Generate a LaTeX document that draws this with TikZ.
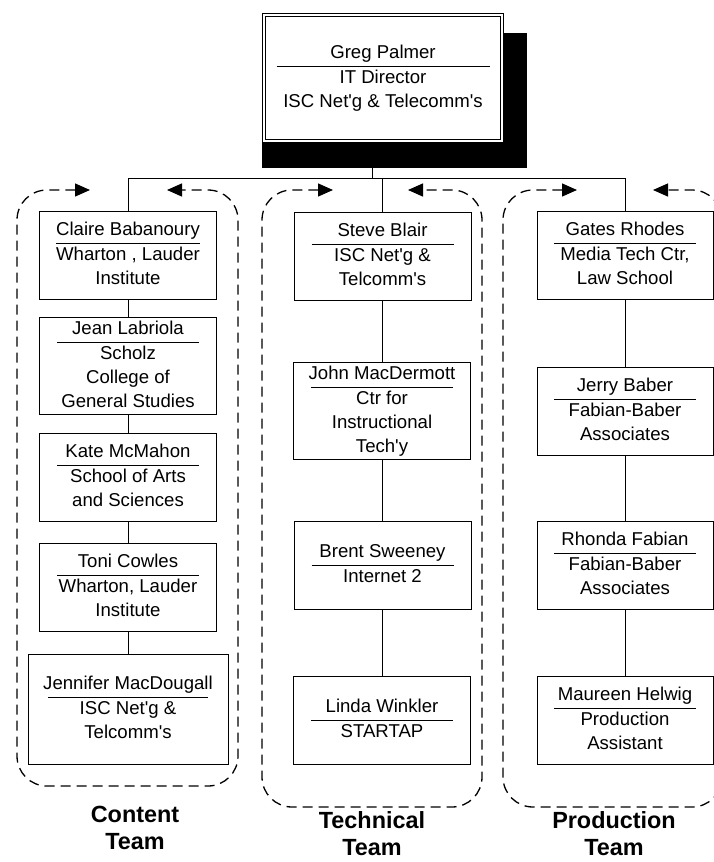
\documentclass[tikz,border=0pt]{standalone}
\usepackage{fontspec}
\setmainfont{Liberation Sans}
\usepackage{array}
\usetikzlibrary{arrows.meta}
\setlength{\arrayrulewidth}{1pt}
% name, rule under it, then the rest
\newcommand{\who}[3][142pt]{\begin{tabular}{@{}c@{}}\makebox[#1]{#2}\\\hline #3\end{tabular}}
\newcommand{\ap}{\textquotesingle}

\begin{document}
\begin{tikzpicture}[
x=1pt,y=-1pt,
PersonBox/.style={draw,line width=1pt,fill=white,minimum width=177pt,minimum height=88pt,inner sep=0pt,
  font=\fontsize{18.6}{24}\selectfont},
DirBox/.style={draw,double,double distance=2.5pt,line width=0.9pt,fill=white,minimum width=237.7pt,
  minimum height=125.7pt,inner sep=0pt,font=\fontsize{18.6}{24}\selectfont},
ShadowBox/.style={fill=black,minimum width=265pt,minimum height=135pt,inner sep=0pt},
TeamLoop/.style={line width=1.3pt,dash pattern=on 10pt off 6pt,rounded corners=30pt,
  {Triangle[length=15pt,width=13pt]}-{Triangle[length=15pt,width=13pt]}},
TeamLabel/.style={align=center,font=\bfseries\fontsize{23.4}{27}\selectfont},
Link/.style={line width=1pt}
]
\useasboundingbox (0,0) rectangle (714,862);

% director with its shadow
\node[ShadowBox] (DirShadow) at (394.5,100.5) {};
\node[DirBox] (Dir) at (383,78) {\raisebox{-3pt}{\who[213pt]{Greg Palmer}{IT Director\\ISC Net\ap g \& Telecomm\ap s}}};

\pgfmathparse{372}		\let\Xf\pgfmathresult
\pgfmathparse{168}		\let\Yf\pgfmathresult
\coordinate (F) at (\Xf,\Yf);

\pgfmathparse{372}		\let\Xj\pgfmathresult
\pgfmathparse{178}		\let\Yj\pgfmathresult
\coordinate (J) at (\Xj,\Yj);

% the three teams
\draw[TeamLoop] (90,190) -- (17,190) -- (17,786) -- (238,786) -- (238,190) -- (167,190);
\draw[TeamLoop] (333,190) -- (262,190) -- (262,807) -- (482,807) -- (482,190) -- (408,190);
\draw[TeamLoop] (577,190) -- (503,190) -- (503,807) -- (722,807) -- (722,190) -- (653,190);

% Content Team
\node[PersonBox] (C1) at (128,255.5) {\who{Claire Babanoury}{Wharton , Lauder\\Institute}};
\node[PersonBox] (C2) at (128,366) {\who{Jean Labriola}{Scholz\\College of\\General Studies}};
\node[PersonBox] (C3) at (128,477) {\who{Kate McMahon}{School of Arts\\and Sciences}};
\node[PersonBox] (C4) at (128,587) {\who{Toni Cowles}{Wharton, Lauder\\Institute}};
\node[PersonBox,minimum width=200pt,minimum height=110pt] (C5) at (128,709)
  {\who[160pt]{Jennifer MacDougall}{ISC Net\ap g \&\\Telcomm\ap s}};

% Technical Team
\node[PersonBox] (T1) at (382.5,256) {\who{Steve Blair}{ISC Net\ap g \&\\Telcomm\ap s}};
\node[PersonBox] (T2) at (382,411) {\who{John MacDermott}{Ctr for\\Instructional\\Tech\ap y}};
\node[PersonBox] (T3) at (382.5,565.5) {\who{Brent Sweeney}{Internet 2}};
\node[PersonBox] (T4) at (382,720) {\who{Linda Winkler}{STARTAP}};

% Production Team
\node[PersonBox,minimum width=176pt] (P1) at (625,255.5) {\who{Gates Rhodes}{Media Tech Ctr,\\Law School}};
\node[PersonBox,minimum width=176pt] (P2) at (625,411) {\who{Jerry Baber}{Fabian-Baber\\Associates}};
\node[PersonBox,minimum width=176pt] (P3) at (625,565) {\who{Rhonda Fabian}{Fabian-Baber\\Associates}};
\node[PersonBox,minimum width=176pt] (P4) at (625,720) {\who{Maureen Helwig}{Production\\Assistant}};

% links
\draw[Link] (F) -- (J);
\draw[Link] (C1.north) -- (C1.north |- J) -- (P1.north |- J) -- (P1.north);
\draw[Link] (T1.north) -- (T1.north |- J);
\foreach \a/\b in {C1/C2,C2/C3,C3/C4,C4/C5,T1/T2,T2/T3,T3/T4,P1/P2,P2/P3,P3/P4}
  \draw[Link] (\a.south) -- (\a.south |- \b.north);

\node[TeamLabel] (LblC) at (135,828) {Content\\Team};
\node[TeamLabel] (LblT) at (372,834) {Technical\\Team};
\node[TeamLabel] (LblP) at (614,834) {Production\\Team};

\end{tikzpicture}
\end{document}
